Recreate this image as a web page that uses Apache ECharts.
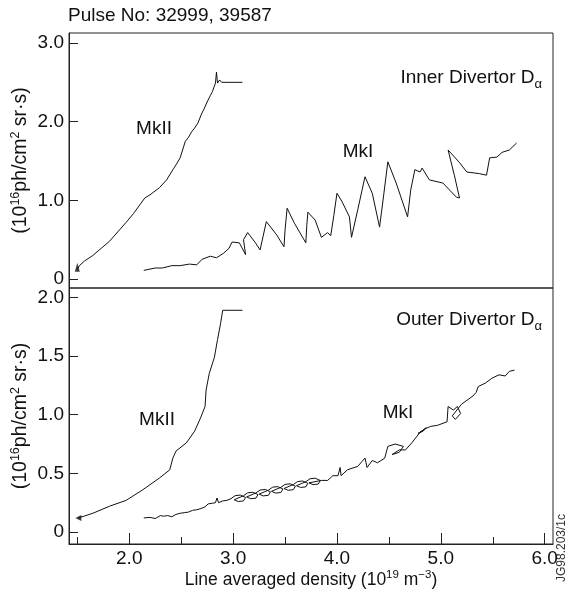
<!DOCTYPE html>
<html>
<head>
<meta charset="utf-8">
<script src="https://cdn.jsdelivr.net/npm/echarts@6/dist/echarts.min.js"></script>
<style>html,body{margin:0;padding:0;background:#fff}#c{width:567px;height:594px}</style>
</head>
<body>
<div id="c"></div>
<script>
// ---- Data ----
const xTickValues = [2, 3, 4, 5, 6];
const xMinorTickValues = [1.5, 2.5, 3.5, 4.5, 5.5];
const topYTicks = [0, 1, 2, 3];
const botYTicks = [0, 0.5, 1, 1.5, 2];

// Inner divertor, MkII
const topMk2X = [1.50,1.52,1.57,1.65,1.73,1.81,1.89,1.97,2.04,2.10,2.15,2.20,2.22,2.29,2.36,2.42,2.45,2.49,2.54,2.57,2.60,2.63,2.66,2.70,2.72,2.75,2.78,2.80,2.83,2.84,2.85,2.87,2.89,3.09];
const topMk2Y = [0.12,0.17,0.23,0.30,0.39,0.48,0.60,0.72,0.83,0.94,1.03,1.07,1.09,1.16,1.26,1.39,1.45,1.54,1.75,1.80,1.87,1.92,1.98,2.11,2.16,2.25,2.33,2.38,2.49,2.63,2.49,2.53,2.50,2.50];
// Inner divertor, MkI
const topMk1X = [2.14,2.25,2.32,2.41,2.49,2.58,2.65,2.70,2.78,2.84,2.91,2.96,2.99,3.06,3.12,3.10,3.14,3.21,3.26,3.32,3.42,3.49,3.50,3.52,3.59,3.70,3.71,3.72,3.79,3.85,3.91,3.94,3.97,4.00,4.05,4.12,4.14,4.20,4.27,4.34,4.41,4.45,4.49,4.57,4.68,4.71,4.75,4.80,4.82,4.89,5.02,5.15,5.18,5.13,5.07,5.18,5.25,5.37,5.44,5.47,5.54,5.59,5.66,5.73];
const topMk1Y = [0.11,0.14,0.14,0.17,0.17,0.19,0.18,0.25,0.29,0.27,0.33,0.39,0.47,0.46,0.31,0.50,0.59,0.47,0.37,0.73,0.56,0.41,0.62,0.90,0.71,0.46,0.69,0.85,0.75,0.53,0.59,0.55,0.81,1.09,0.98,0.79,0.53,0.88,1.30,1.09,0.66,1.07,1.49,1.22,0.79,1.13,1.39,1.36,1.41,1.26,1.22,1.04,1.03,1.32,1.64,1.48,1.36,1.34,1.32,1.54,1.55,1.61,1.64,1.73];
// Outer divertor, MkII
const botMk2X = [1.51,1.65,1.81,1.97,2.13,2.29,2.39,2.42,2.45,2.55,2.63,2.69,2.73,2.74,2.77,2.82,2.85,2.88,2.90,3.09];
const botMk2Y = [0.12,0.16,0.22,0.27,0.36,0.46,0.53,0.63,0.69,0.76,0.86,0.98,1.07,1.21,1.35,1.49,1.64,1.78,1.89,1.89];
// Outer divertor, MkI
const botMk1X = [2.14,2.20,2.25,2.30,2.33,2.37,2.41,2.45,2.49,2.53,2.57,2.61,2.65,2.69,2.73,2.76,2.80,2.83,2.845,2.86,2.90,2.94,
  2.98,3.02,3.07,3.12,3.10,3.05,3.01,
  3.10,3.14,3.19,3.24,3.22,3.17,3.13,
  3.22,3.26,3.31,3.36,3.34,3.29,3.25,
  3.34,3.38,3.43,3.48,3.46,3.41,3.37,
  3.46,3.50,3.55,3.60,3.58,3.53,3.49,
  3.58,3.62,3.67,3.72,3.70,3.65,3.61,
  3.70,3.74,3.79,3.84,3.82,3.77,3.73,
  3.85,3.91,
  3.96,4.01,4.03,4.04,4.10,4.20,4.24,4.27,4.29,4.34,4.39,4.46,4.49,4.56,4.64,4.60,4.53,4.60,4.66,4.72,4.80,4.86,4.83,4.78,4.85,4.90,4.97,5.06,5.07,5.12,5.16,5.19,5.14,5.11,5.20,5.31,5.34,5.36,5.43,5.49,5.56,5.62,5.66,5.71];
const botMk1Y = [0.12,0.125,0.115,0.14,0.135,0.14,0.13,0.15,0.16,0.165,0.17,0.185,0.19,0.20,0.215,0.24,0.245,0.25,0.29,0.25,0.265,0.27,
  0.285,0.31,0.315,0.295,0.265,0.26,0.275,
  0.309,0.334,0.339,0.319,0.289,0.284,0.299,
  0.333,0.358,0.363,0.343,0.313,0.308,0.323,
  0.357,0.382,0.387,0.367,0.337,0.332,0.347,
  0.381,0.406,0.411,0.391,0.361,0.356,0.371,
  0.405,0.430,0.435,0.415,0.385,0.380,0.395,
  0.429,0.454,0.459,0.439,0.409,0.404,0.419,
  0.44,0.44,
  0.48,0.48,0.55,0.48,0.53,0.56,0.60,0.63,0.55,0.61,0.59,0.63,0.73,0.75,0.73,0.68,0.66,0.70,0.70,0.76,0.85,0.89,0.86,0.84,0.88,0.90,0.91,0.94,1.07,1.04,1.07,1.01,0.96,0.99,1.09,1.16,1.19,1.24,1.27,1.31,1.34,1.33,1.37,1.38];

const pairs = (xs, ys) => xs.map((x, i) => [x, ys[i]]);

const FONT = 'Liberation Sans';
const INK = '#111';
const xMin = 1.42, xMax = 6.08;
const fmt = v => v === 0 ? '0' : v.toFixed(1);

const yName = '(10{sup|16}ph/cm{sup|2} sr\u00b7s)';
const yNameStyle = {
  fontFamily: FONT, fontSize: 19.5, color: INK, lineHeight: 24,
  rich: { sup: { fontFamily: FONT, fontSize: 12.5, color: INK, lineHeight: 13, verticalAlign: 'top' } }
};
const xNameStyle = {
  fontFamily: FONT, fontSize: 17.5, color: INK, lineHeight: 22,
  rich: { sup: { fontFamily: FONT, fontSize: 11.5, color: INK, lineHeight: 12, verticalAlign: 'top' } }
};

function lineSeries(data, xi, yi) {
  return { type: 'line', data, xAxisIndex: xi, yAxisIndex: yi, showSymbol: false, symbol: 'none',
    lineStyle: { color: INK, width: 1 }, silent: true, animation: false, z: 3 };
}

function richLabel(text, x, y, align) {
  return { type: 'text', x, y, silent: true, style: {
    text, align: align || 'center', verticalAlign: 'middle', fill: INK,
    font: '19px ' + FONT,
    rich: {
      n: { fontFamily: FONT, fontSize: 19, fill: INK, color: INK, lineHeight: 26, verticalAlign: 'middle' },
      s: { fontFamily: FONT, fontSize: 13, fill: INK, color: INK, lineHeight: 15, verticalAlign: 'bottom' }
    }
  } };
}

const axisLabelStyle = { fontFamily: FONT, fontSize: 19, color: INK };
const gridCommon = { left: 69, width: 484, show: true, borderColor: '#222', borderWidth: 1, backgroundColor: 'transparent', containLabel: false, outerBoundsMode: 'none' };

const chart = echarts.init(document.getElementById('c'), null, { renderer: 'canvas' });
chart.setOption({
  animation: false,
  backgroundColor: '#fff',
  grid: [
    Object.assign({ top: 33, height: 255 }, gridCommon),
    Object.assign({ top: 288, height: 256 }, gridCommon)
  ],
  xAxis: [
    { gridIndex: 0, type: 'value', min: xMin, max: xMax, axisLine: { show: false }, axisTick: { show: false }, axisLabel: { show: false }, splitLine: { show: false } },
    { gridIndex: 1, type: 'value', min: xMin, max: xMax, position: 'bottom',
      axisLine: { show: true, onZero: false, lineStyle: { color: '#222', width: 1 } },
      axisTick: { show: true, inside: true, length: 11, customValues: xTickValues, lineStyle: { color: '#222', width: 1 } },
      axisLabel: Object.assign({ show: true, customValues: xTickValues, formatter: fmt, margin: 5 }, axisLabelStyle),
      splitLine: { show: false },
      name: 'Line averaged density (10{sup|19} m{sup|\u22123})', nameLocation: 'middle', nameGap: 24,
      nameTextStyle: xNameStyle },
    { gridIndex: 1, type: 'value', min: xMin, max: xMax, position: 'bottom', offset: 0,
      axisLine: { show: false, onZero: false },
      axisTick: { show: true, inside: true, length: 7, customValues: xMinorTickValues, lineStyle: { color: '#222', width: 1 } },
      axisLabel: { show: false }, splitLine: { show: false } }
  ],
  yAxis: [
    { gridIndex: 0, type: 'value', min: -0.114, max: 3.127,
      axisLine: { show: true, onZero: false, lineStyle: { color: '#222', width: 1 } },
      axisTick: { show: true, inside: true, length: 9, customValues: topYTicks, lineStyle: { color: '#222', width: 1 } },
      axisLabel: Object.assign({ show: true, customValues: topYTicks, formatter: fmt, margin: 5 }, axisLabelStyle),
      splitLine: { show: false },
      name: yName, nameLocation: 'middle', nameRotate: 90, nameGap: 36, nameMoveOverlap: false, nameTextStyle: yNameStyle },
    { gridIndex: 1, type: 'value', min: -0.102, max: 2.08,
      axisLine: { show: true, onZero: false, lineStyle: { color: '#222', width: 1 } },
      axisTick: { show: true, inside: true, length: 9, customValues: botYTicks, lineStyle: { color: '#222', width: 1 } },
      axisLabel: Object.assign({ show: true, customValues: botYTicks, formatter: fmt, margin: 5 }, axisLabelStyle),
      splitLine: { show: false },
      name: yName, nameLocation: 'middle', nameRotate: 90, nameGap: 36, nameMoveOverlap: false, nameTextStyle: yNameStyle }
  ],
  series: [
    lineSeries(pairs(topMk2X, topMk2Y), 0, 0),
    lineSeries(pairs(topMk1X, topMk1Y), 0, 0),
    lineSeries(pairs(botMk2X, botMk2Y), 1, 1),
    lineSeries(pairs(botMk1X, botMk1Y), 1, 1),
    { type: 'scatter', xAxisIndex: 0, yAxisIndex: 0, data: [[topMk2X[0], topMk2Y[0] + 0.03]], symbol: 'triangle', symbolSize: [5, 9], itemStyle: { color: INK }, silent: true },
    { type: 'scatter', xAxisIndex: 1, yAxisIndex: 1, data: [[botMk2X[0], botMk2Y[0]]], symbol: 'triangle', symbolRotate: 90, symbolSize: [6, 6], itemStyle: { color: INK }, silent: true }
  ],
  graphic: [
    { type: 'text', left: 68, top: 6, silent: true, style: { text: 'Pulse No: 32999, 39587', font: '19px ' + FONT, fill: INK } },
    richLabel('{n|Inner Divertor D}{s|\u03b1}', 542, 78, 'right'),
    richLabel('{n|Outer Divertor D}{s|\u03b1}', 542, 320, 'right'),
    { type: 'text', x: 154, y: 129, silent: true, style: { text: 'MkII', font: '19px ' + FONT, fill: INK, align: 'center', verticalAlign: 'middle' } },
    { type: 'text', x: 358, y: 152, silent: true, style: { text: 'MkI', font: '19px ' + FONT, fill: INK, align: 'center', verticalAlign: 'middle' } },
    { type: 'text', x: 157, y: 420, silent: true, style: { text: 'MkII', font: '19px ' + FONT, fill: INK, align: 'center', verticalAlign: 'middle' } },
    { type: 'text', x: 398, y: 413, silent: true, style: { text: 'MkI', font: '19px ' + FONT, fill: INK, align: 'center', verticalAlign: 'middle' } },
    { type: 'text', x: 562, y: 548, rotation: Math.PI / 2, silent: true, style: { text: 'JG98.203/1c', font: '12px ' + FONT, fill: '#333', align: 'center', verticalAlign: 'middle' } }
  ]
});
</script>
</body>
</html>
